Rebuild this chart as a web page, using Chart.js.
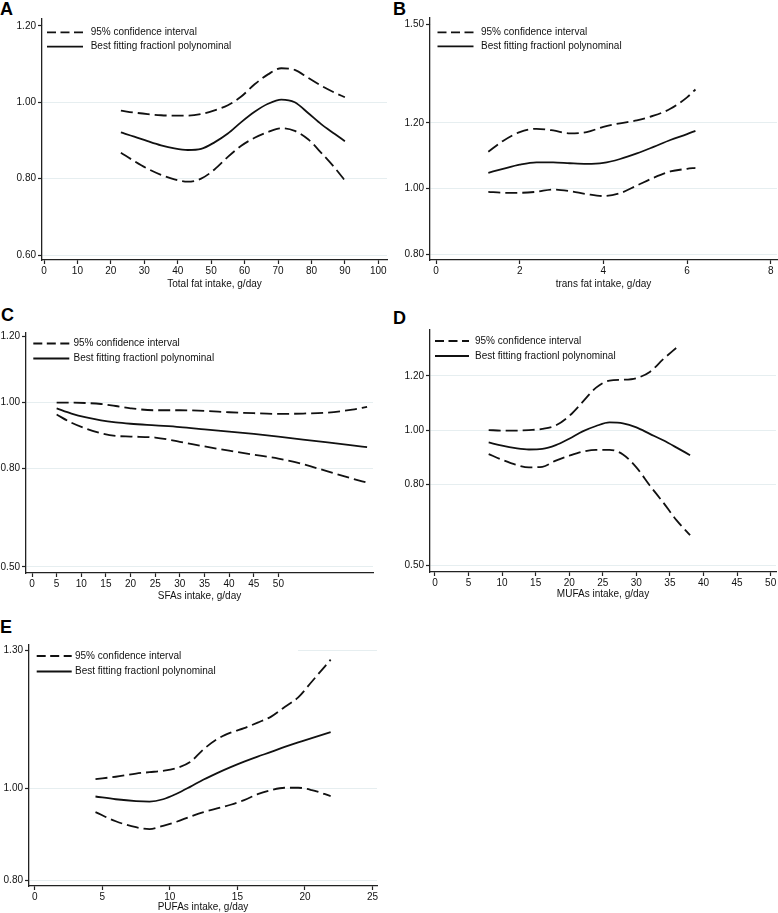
<!DOCTYPE html>
<html lang="en">
<head>
<meta charset="UTF-8">
<title>Fat intake dose-response</title>
<script src="https://cdn.jsdelivr.net/npm/chart.js"></script>
<style>
    body {
        margin: 0;
        width: 778px;
        height: 913px;
        position: relative;
        overflow: hidden;
        background: #fff;
        font-family: 'Liberation Sans', Arial, sans-serif;
    }
    canvas { position: absolute; }
    .letter {
        position: absolute;
        font: bold 18px 'Liberation Sans', Arial, sans-serif;
        color: #000;
        line-height: 18px;
    }
</style>
</head>
<body>
<div class="letter" style="left:0px;top:0px">A</div>
<div class="letter" style="left:393px;top:0px">B</div>
<div class="letter" style="left:1px;top:306px">C</div>
<div class="letter" style="left:393px;top:309px">D</div>
<div class="letter" style="left:0px;top:618px">E</div>

<canvas id="chartA" width="390" height="300" style="left:0;top:0"></canvas>
<canvas id="chartB" width="390" height="300" style="left:388px;top:0"></canvas>
<canvas id="chartC" width="390" height="305" style="left:0;top:300px"></canvas>
<canvas id="chartD" width="390" height="305" style="left:388px;top:300px"></canvas>
<canvas id="chartE" width="390" height="313" style="left:0;top:600px"></canvas>

<script>
// A: total fat
const fatX     = [23, 27, 31, 35, 39, 43, 47, 51, 55, 59, 63, 67, 71, 75, 79, 83, 87, 90];
const fatFit   = [0.921, 0.910, 0.898, 0.887, 0.879, 0.875, 0.878, 0.895, 0.918, 0.948, 0.975, 0.996, 1.007, 1.000, 0.972, 0.942, 0.917, 0.898];
const fatUpper = [0.978, 0.973, 0.969, 0.966, 0.965, 0.965, 0.969, 0.979, 0.992, 1.015, 1.047, 1.073, 1.089, 1.085, 1.064, 1.043, 1.025, 1.013];
const fatLower = [0.868, 0.846, 0.826, 0.810, 0.798, 0.792, 0.800, 0.824, 0.857, 0.886, 0.907, 0.922, 0.932, 0.925, 0.903, 0.867, 0.828, 0.795];
const fatXTicks = [0, 10, 20, 30, 40, 50, 60, 70, 80, 90, 100];
const fatYTicks = [0.60, 0.80, 1.00, 1.20];

// B: trans fat
const transX     = [1.25, 1.6, 2.0, 2.4, 2.8, 3.2, 3.6, 4.0, 4.4, 4.8, 5.2, 5.6, 6.0, 6.2];
const transFit   = [1.048, 1.060, 1.073, 1.080, 1.080, 1.077, 1.075, 1.078, 1.090, 1.107, 1.127, 1.148, 1.166, 1.176];
const transUpper = [1.112, 1.145, 1.172, 1.182, 1.177, 1.168, 1.172, 1.188, 1.199, 1.208, 1.222, 1.243, 1.278, 1.302];
const transLower = [0.990, 0.987, 0.987, 0.990, 0.997, 0.992, 0.983, 0.977, 0.986, 1.009, 1.033, 1.052, 1.060, 1.063];
const transXTicks = [0, 2, 4, 6, 8];
const transYTicks = [0.80, 1.00, 1.20, 1.50];

// C: SFAs
const sfaX     = [5, 8, 11, 14, 17, 20, 25, 30, 35, 40, 45, 50, 55, 60, 65, 68];
const sfaFit   = [0.982, 0.966, 0.954, 0.945, 0.939, 0.935, 0.930, 0.925, 0.918, 0.911, 0.904, 0.896, 0.887, 0.878, 0.869, 0.864];
const sfaUpper = [0.999, 0.999, 0.998, 0.995, 0.989, 0.982, 0.976, 0.976, 0.974, 0.970, 0.967, 0.965, 0.966, 0.969, 0.978, 0.986];
const sfaLower = [0.963, 0.938, 0.920, 0.906, 0.898, 0.896, 0.893, 0.880, 0.866, 0.853, 0.841, 0.829, 0.812, 0.790, 0.768, 0.756];
const sfaXTicks = [0, 5, 10, 15, 20, 25, 30, 35, 40, 45, 50];
const sfaYTicks = [0.50, 0.80, 1.00, 1.20];

// D: MUFAs
const mufaX     = [8, 10, 12, 14, 16, 18, 20, 22, 24, 26, 28, 30, 32, 34, 36, 38];
const mufaFit   = [0.954, 0.942, 0.933, 0.928, 0.930, 0.944, 0.968, 0.995, 1.015, 1.028, 1.025, 1.010, 0.986, 0.962, 0.935, 0.907];
const mufaUpper = [1.000, 0.998, 0.998, 1.000, 1.004, 1.017, 1.052, 1.104, 1.157, 1.183, 1.186, 1.192, 1.215, 1.262, 1.305, null];
const mufaLower = [0.911, 0.890, 0.872, 0.862, 0.864, 0.887, 0.905, 0.920, 0.927, 0.927, 0.910, 0.862, 0.795, 0.732, 0.666, 0.611];
const mufaXTicks = [0, 5, 10, 15, 20, 25, 30, 35, 40, 45, 50];
const mufaYTicks = [0.50, 0.80, 1.00, 1.20];

// E: PUFAs
const pufaX     = [4.5, 6, 7.5, 8.5, 9.5, 10.5, 11.5, 12.5, 13.5, 14.5, 15.5, 16.5, 17.5, 18.5, 19.5, 20.5, 21.9];
const pufaFit   = [0.982, 0.976, 0.972, 0.971, 0.976, 0.988, 1.003, 1.019, 1.033, 1.046, 1.058, 1.069, 1.079, 1.090, 1.100, 1.109, 1.122];
const pufaUpper = [1.020, 1.025, 1.032, 1.035, 1.038, 1.044, 1.057, 1.085, 1.107, 1.121, 1.131, 1.143, 1.156, 1.177, 1.198, 1.232, 1.280];
const pufaLower = [0.948, 0.928, 0.915, 0.911, 0.918, 0.927, 0.938, 0.948, 0.956, 0.964, 0.974, 0.987, 0.996, 1.001, 1.001, 0.996, 0.983];
const pufaXTicks = [0, 5, 10, 15, 20, 25];
const pufaYTicks = [0.80, 1.00, 1.30];

const legendLabels = ['95% confidence interval', 'Best fitting fractionl polynominal'];

const FONT = "'Liberation Sans', Arial, sans-serif";
const AXIS = '#222';
const DASH = [12, 5];

// legend drawn inside the plot area, white box behind it hides the gridlines
const ciLegend = {
    id: 'ciLegend',
    beforeDatasetsDraw(chart, args, opts) {
        const {ctx, chartArea} = chart;
        const x0 = chartArea.left + opts.dx;
        const y0 = chartArea.top + opts.dy;
        ctx.save();
        ctx.fillStyle = '#fff';
        const boxW = opts.boxW ? opts.boxW : chartArea.width - 1;
        ctx.fillRect(chartArea.left + 1, chartArea.top, boxW, opts.dy + opts.gap + 8);
        ctx.strokeStyle = '#111';
        ctx.lineWidth = 1.8;
        ctx.setLineDash([9, 4.5]);
        ctx.beginPath();
        ctx.moveTo(x0, y0);
        ctx.lineTo(x0 + opts.len, y0);
        ctx.stroke();
        ctx.setLineDash([]);
        ctx.beginPath();
        ctx.moveTo(x0, y0 + opts.gap);
        ctx.lineTo(x0 + opts.len, y0 + opts.gap);
        ctx.stroke();
        ctx.fillStyle = '#111';
        ctx.font = '10px ' + FONT;
        ctx.textBaseline = 'middle';
        ctx.fillText(legendLabels[0], chartArea.left + opts.tx, y0);
        ctx.fillText(legendLabels[1], chartArea.left + opts.tx, y0 + opts.gap);
        ctx.restore();
    }
};

function pts(xs, ys) {
    return xs.map((x, i) => ({x: x, y: ys[i]}));
}

function makePanel(id, box, plot, titleY, p) {
    const yW = plot.l - box.left;
    const xH = box.top + box.h - plot.b;
    const line = (data, dashed) => ({
        data: data,
        borderColor: '#111',
        borderWidth: 1.8,
        borderDash: dashed ? DASH : [],
        pointRadius: 0,
        cubicInterpolationMode: 'monotone',
        spanGaps: false
    });
    return new Chart(document.getElementById(id), {
        type: 'line',
        data: {
            datasets: [
                line(pts(p.x, p.upper), true),
                line(pts(p.x, p.fit), false),
                line(pts(p.x, p.lower), true)
            ]
        },
        options: {
            responsive: false,
            animation: false,
            layout: {
                padding: {top: plot.t - box.top, right: box.left + box.w - plot.r, left: 0, bottom: 0}
            },
            plugins: {
                legend: {display: false},
                tooltip: {enabled: false},
                ciLegend: p.legend
            },
            scales: {
                x: {
                    type: 'linear',
                    min: p.xMin,
                    max: p.xMax,
                    afterBuildTicks: s => { s.ticks = p.xTicks.map(v => ({value: v})); },
                    afterFit: s => { s.height = xH; },
                    border: {display: true, color: AXIS, width: 1.3},
                    grid: {drawOnChartArea: false, drawTicks: true, tickLength: 4, tickColor: AXIS, tickWidth: 1.2},
                    ticks: {color: '#111', font: {family: FONT, size: 10}, padding: 1, maxRotation: 0, autoSkip: false},
                    title: {
                        display: true,
                        text: p.xTitle,
                        color: '#111',
                        font: {family: FONT, size: 10},
                        padding: {top: 0, bottom: Math.max(0, box.top + box.h - titleY - 6)}
                    }
                },
                y: {
                    type: 'linear',
                    min: p.yMin,
                    max: p.yMax,
                    afterBuildTicks: s => { s.ticks = p.yTicks.map(v => ({value: v})); },
                    afterFit: s => { s.width = yW; },
                    border: {display: true, color: AXIS, width: 1.3},
                    grid: {
                        color: '#e6eef0',
                        lineWidth: 1,
                        drawTicks: true,
                        tickLength: 4,
                        tickColor: AXIS,
                        tickWidth: 1.2
                    },
                    ticks: {
                        color: '#111',
                        font: {family: FONT, size: 10},
                        padding: 2,
                        autoSkip: false,
                        callback: v => Number(v).toFixed(2)
                    }
                }
            }
        },
        plugins: [ciLegend]
    });
}

makePanel('chartA', {left: 0, top: 0, w: 390, h: 300}, {l: 42, t: 19, r: 387, b: 260}, 284, {
    x: fatX, fit: fatFit, upper: fatUpper, lower: fatLower,
    xMin: -0.6, xMax: 102.6, yMin: 0.587, yMax: 1.218,
    xTicks: fatXTicks, yTicks: fatYTicks,
    xTitle: 'Total fat intake, g/day',
    legend: {dx: 5, dy: 13.3, len: 36, tx: 48.7, gap: 14.4, boxW: 0}
});

makePanel('chartB', {left: 388, top: 0, w: 390, h: 300}, {l: 430, t: 18, r: 777, b: 260}, 284, {
    x: transX, fit: transFit, upper: transUpper, lower: transLower,
    xMin: -0.144, xMax: 8.15, yMin: 0.782, yMax: 1.52,
    xTicks: transXTicks, yTicks: transYTicks,
    xTitle: 'trans fat intake, g/day',
    legend: {dx: 7.5, dy: 14.3, len: 36, tx: 51, gap: 14, boxW: 0}
});

makePanel('chartC', {left: 0, top: 300, w: 390, h: 305}, {l: 26, t: 333, r: 373, b: 573}, 596, {
    x: sfaX, fit: sfaFit, upper: sfaUpper, lower: sfaLower,
    xMin: -1.22, xMax: 69.2, yMin: 0.481, yMax: 1.211,
    xTicks: sfaXTicks, yTicks: sfaYTicks,
    xTitle: 'SFAs intake, g/day',
    legend: {dx: 7.3, dy: 10.5, len: 36, tx: 47.5, gap: 15, boxW: 0}
});

makePanel('chartD', {left: 388, top: 300, w: 390, h: 305}, {l: 430, t: 330, r: 776, b: 572}, 594, {
    x: mufaX, fit: mufaFit, upper: mufaUpper, lower: mufaLower,
    xMin: -0.74, xMax: 50.8, yMin: 0.475, yMax: 1.370,
    xTicks: mufaXTicks, yTicks: mufaYTicks,
    xTitle: 'MUFAs intake, g/day',
    legend: {dx: 5, dy: 11, len: 34, tx: 45, gap: 15, boxW: 250}
});

makePanel('chartE', {left: 0, top: 600, w: 390, h: 313}, {l: 29, t: 645, r: 377, b: 886}, 907, {
    x: pufaX, fit: pufaFit, upper: pufaUpper, lower: pufaLower,
    xMin: -0.42, xMax: 25.33, yMin: 0.787, yMax: 1.312,
    xTicks: pufaXTicks, yTicks: pufaYTicks,
    xTitle: 'PUFAs intake, g/day',
    legend: {dx: 7.7, dy: 11, len: 35, tx: 46, gap: 15.5, boxW: 268}
});
</script>
</body>
</html>
